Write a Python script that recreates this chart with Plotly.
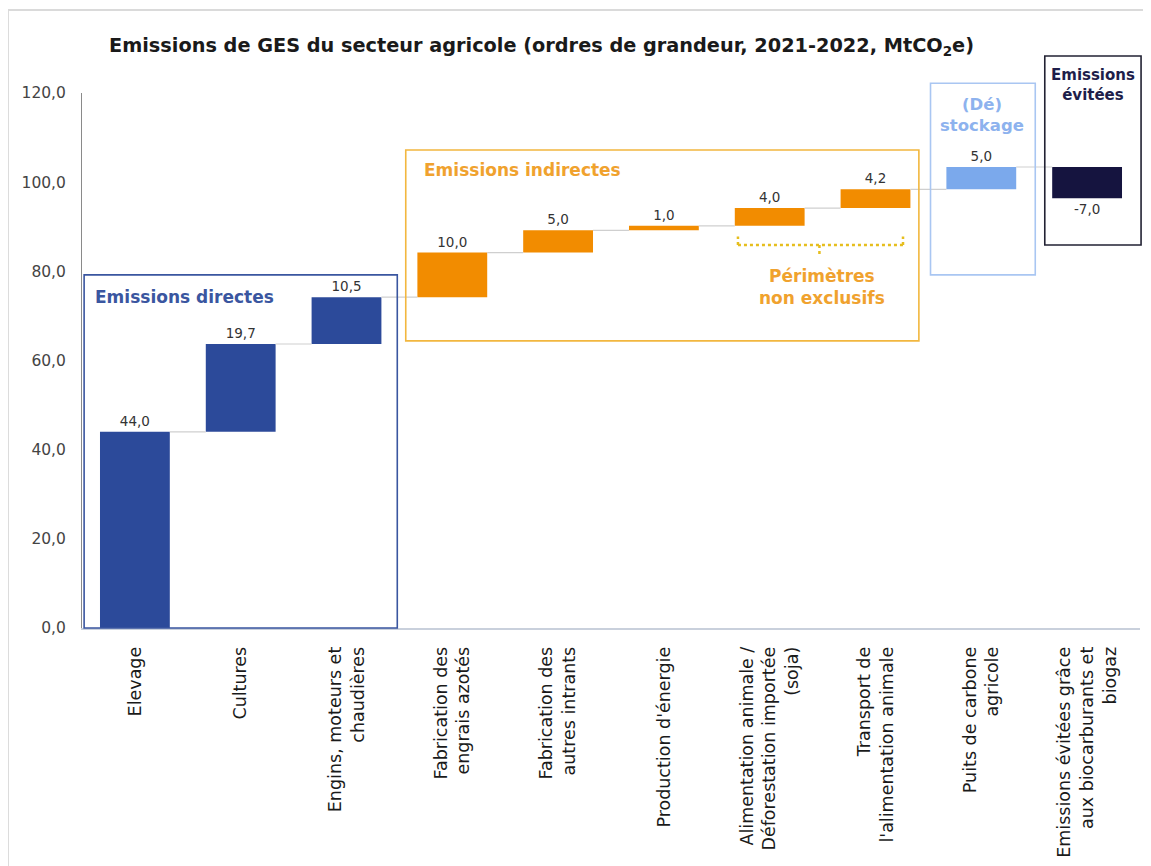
import numpy as np
import plotly.graph_objects as go

categories = [
    "Elevage",
    "Cultures",
    "Engins, moteurs et<br>chaudières",
    "Fabrication des<br>engrais azotés",
    "Fabrication des<br>autres intrants",
    "Production d'énergie",
    "Alimentation animale /<br>Déforestation importée<br>(soja)",
    "Transport de<br>l'alimentation animale",
    "Puits de carbone<br>agricole",
    "Emissions évitées grâce<br>aux biocarburants et<br>biogaz",
]
values = [44.0, 19.7, 10.5, 10.0, 5.0, 1.0, 4.0, 4.2, 5.0, -7.0]
y_ticks = [0, 20, 40, 60, 80, 100, 120]

bar_colors = ["#2C4A9A"] * 3 + ["#F28C00"] * 5 + ["#7BA9EC", "#15143F"]

FONT = "DejaVu Sans"
vals = np.array(values)
ends = np.cumsum(vals)
bases = ends - vals
idx = np.arange(len(categories))
W = 0.66

fig = go.Figure()

# connectors
cx, cy = [], []
for i in range(len(values) - 1):
    cx += [i + W / 2, i + 1 - W / 2, None]
    cy += [ends[i], ends[i], None]
fig.add_trace(go.Scatter(x=cx, y=cy, mode="lines",
                         line=dict(color="#CFCFCF", width=1.2),
                         hoverinfo="skip", showlegend=False))

fig.add_trace(go.Bar(
    x=idx, y=vals, base=bases, width=W,
    marker=dict(color=bar_colors, line=dict(width=0)),
    text=[f"{v:.1f}".replace(".", ",") for v in values],
    textposition="outside", cliponaxis=False,
    textfont=dict(family=FONT, size=13.5, color="#333333"),
    showlegend=False,
))

XR = (-0.5, 9.5)
YR = (0, 120)


def xd(x):
    return (x - XR[0]) / (XR[1] - XR[0])


def yd(y):
    return (y - YR[0]) / (YR[1] - YR[0])


shapes = []
boxes = [
    ((-0.48, 2.48, 0.0, 79.2), "#3A56A0"),
    ((2.56, 7.41, 64.4, 107.2), "#F2B73F"),
    ((7.52, 8.51, 79.2, 122.2), "#A9C6F2"),
    ((8.60, 9.51, 85.9, 128.3), "#222233"),
]
for (x0, x1, y0, y1), col in boxes:
    shapes.append(dict(type="rect", xref="x domain", yref="y domain",
                       x0=xd(x0), x1=xd(x1), y0=yd(y0), y1=yd(y1),
                       line=dict(color=col, width=1.6), fillcolor="rgba(0,0,0,0)"))

dot = dict(color="#E6BE1E", width=2.5, dash="dot")
shapes += [
    dict(type="line", xref="x", yref="y", x0=5.70, x1=7.26, y0=85.9, y1=85.9, line=dot),
    dict(type="line", xref="x", yref="y", x0=5.70, x1=5.70, y0=85.9, y1=87.8, line=dot),
    dict(type="line", xref="x", yref="y", x0=7.26, x1=7.26, y0=85.9, y1=87.8, line=dot),
    dict(type="line", xref="x", yref="y", x0=6.47, x1=6.47, y0=85.9, y1=83.6, line=dot),
]
shapes.append(dict(type="rect", xref="paper", yref="paper",
                   x0=-0.07, x1=1.05, y0=-0.6, y1=1.155,
                   line=dict(color="#DADADA", width=2), fillcolor="rgba(0,0,0,0)"))


def label(text, x, y, color, size=17, xanchor="center"):
    return dict(text=text, xref="x domain", yref="y domain", x=xd(x), y=yd(y),
                showarrow=False, xanchor=xanchor, yanchor="middle", align="center",
                font=dict(family=FONT, size=size, color=color))


annotations = [
    dict(text="<b>Emissions de GES du secteur agricole (ordres de grandeur, 2021-2022, MtCO<sub>2</sub>e)</b>",
         xref="paper", yref="paper", x=0.434, y=1.086, showarrow=False,
         xanchor="center", yanchor="middle",
         font=dict(family=FONT, size=19.3, color="#1A1A1A")),
    label("<b>Emissions directes</b>", -0.40, 74.2, "#3A56A0", 17, "left"),
    label("<b>Emissions indirectes</b>", 2.71, 102.7, "#F0A22E", 17, "left"),
    label("<b>Périmètres<br>non exclusifs</b>", 6.49, 76.5, "#F0A22E", 17),
    label("<b>(Dé)<br>stockage</b>", 8.01, 115.0, "#8DB2EE", 16.5),
    label("<b>Emissions<br>évitées</b>", 9.055, 121.8, "#1E1E4A", 15),
]

fig.update_layout(
    width=1151, height=866,
    margin=dict(l=74, r=19, t=85, b=246, autoexpand=False),
    paper_bgcolor="white", plot_bgcolor="white",
    separators=", ",
    shapes=shapes, annotations=annotations,
    font=dict(family=FONT, color="#333333"),
)
fig.update_xaxes(
    range=list(XR), tickmode="array", tickvals=idx, ticktext=categories,
    tickangle=-90, showgrid=False, zeroline=False,
    showline=True, linecolor="#C9D0DC", linewidth=1.5,
    ticks="", ticklabelstandoff=10,
    tickfont=dict(family=FONT, size=17.5, color="#1A1A1A"),
)
fig.update_yaxes(
    range=list(YR), tickmode="array", tickvals=y_ticks, tickformat=".1f",
    showgrid=False, zeroline=False,
    showline=True, linecolor="#8A8A8A", linewidth=1,
    ticks="", ticklabelstandoff=12,
    tickfont=dict(family=FONT, size=15.5, color="#444444"),
)

fig.write_html("out.html")
